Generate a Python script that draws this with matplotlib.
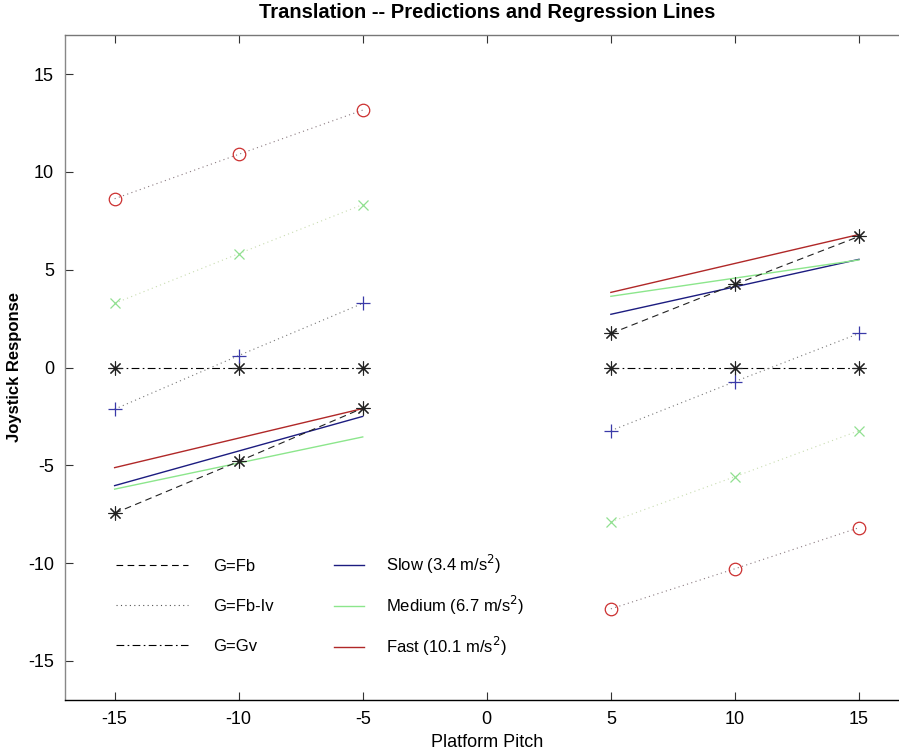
import matplotlib
matplotlib.use("Agg")
import matplotlib.pyplot as plt
from matplotlib.lines import Line2D

plt.rcParams['font.family'] = ['Liberation Sans', 'DejaVu Sans']

# ---- data ----
x_left = [-15, -10, -5]
x_right = [5, 10, 15]
x_reg_left = [-15, -5]
x_reg_right = [5, 15]

# predictions G=Fb (black asterisks, dashed)
fb_left = [-7.45, -4.8, -2.08]
fb_right = [1.74, 4.25, 6.7]
# predictions G=Gv (black asterisks, dash-dot)
gv_left = [0, 0, 0]
gv_right = [0, 0, 0]
# predictions G=Fb-Iv (dotted) for each speed
fbiv_slow_left = [-2.13, 0.61, 3.28]
fbiv_slow_right = [-3.23, -0.72, 1.74]
fbiv_med_left = [3.28, 5.82, 8.33]
fbiv_med_right = [-7.89, -5.58, -3.23]
fbiv_fast_left = [8.63, 10.9, 13.16]
fbiv_fast_right = [-12.34, -10.29, -8.19]

# regression lines
reg_slow_left = [-6.04, -2.5]
reg_slow_right = [2.72, 5.53]
reg_med_left = [-6.22, -3.55]
reg_med_right = [3.64, 5.5]
reg_fast_left = [-5.12, -2.1]
reg_fast_right = [3.84, 6.8]

xticks = [-15, -10, -5, 0, 5, 10, 15]
yticks = [-15, -10, -5, 0, 5, 10, 15]

c_slow = '#1c1c80'
c_med = '#8ce68c'
c_fast = '#b02828'
c_plus = '#3a3aa8'
c_circ = '#cc3030'
c_cross = '#90e090'

fig = plt.figure(figsize=(8.99, 7.49), dpi=100)
ax = fig.add_axes([65/899, 1-700/749, 843.6/899, 665/749])

lw = 0.8
ast = (8, 2, 0)

# regression lines
for xs, ys, c in [(x_reg_left, reg_slow_left, c_slow), (x_reg_right, reg_slow_right, c_slow),
                  (x_reg_left, reg_med_left, c_med), (x_reg_right, reg_med_right, c_med),
                  (x_reg_left, reg_fast_left, c_fast), (x_reg_right, reg_fast_right, c_fast)]:
    ax.plot(xs, ys, color=c, lw=1.0, zorder=2)

# G=Fb
for xs, ys in ((x_left, fb_left), (x_right, fb_right)):
    ax.plot(xs, ys, color='#222222', ls=(0, (6, 4)), lw=lw, zorder=3)
    ax.plot(xs, ys, ls='none', marker=ast, ms=10, mec='#222222', mew=0.8, zorder=4)

# G=Gv
for xs, ys in ((x_left, gv_left), (x_right, gv_right)):
    ax.plot(xs, ys, color='black', ls=(0, (7, 3, 1.5, 3)), lw=lw, zorder=3)
    ax.plot(xs, ys, ls='none', marker=ast, ms=10, mec='#222222', mew=0.8, zorder=4)

# G=Fb-Iv
for xs, ys, lc, m, mc, ms in [
        (x_left, fbiv_slow_left, '#777777', '+', c_plus, 10),
        (x_right, fbiv_slow_right, '#777777', '+', c_plus, 10),
        (x_left, fbiv_med_left, '#c8dcb0', 'x', c_cross, 7),
        (x_right, fbiv_med_right, '#c8dcb0', 'x', c_cross, 7),
        (x_left, fbiv_fast_left, '#8a7a80', 'o', c_circ, 9),
        (x_right, fbiv_fast_right, '#8a7a80', 'o', c_circ, 9)]:
    ax.plot(xs, ys, color=lc, ls=(0, (1, 3)), lw=lw, zorder=3)
    ax.plot(xs, ys, ls='none', marker=m, ms=ms, mfc='none', mec=mc, mew=0.9, zorder=4)

ax.set_xlim(-17, 17)
ax.set_ylim(-17, 17)
ax.set_xticks(xticks)
ax.set_yticks(yticks)
ax.set_xticklabels([str(v) for v in xticks], fontsize=13)
ax.set_yticklabels([str(v) for v in yticks], fontsize=13)
ax.tick_params(direction='in', top=True, right=True, length=6, width=0.8, colors='#333333',
               labelcolor='black', pad=8)
for s in ax.spines.values():
    s.set_linewidth(1.0)
ax.spines['left'].set_color('#888888')
ax.spines['top'].set_color('#777777')
ax.spines['bottom'].set_color('black')

ax.set_title('Translation -- Predictions and Regression Lines', fontsize=14.5, fontweight='bold', pad=12)
ax.set_xlabel('Platform Pitch', fontsize=13, labelpad=4)
ax.set_ylabel('Joystick Response', fontsize=12, fontweight='bold', labelpad=4)

# legends
h1 = [Line2D([], [], color='black', ls=(0, (6, 4)), lw=lw),
      Line2D([], [], color='#555555', ls=(0, (1, 3)), lw=lw),
      Line2D([], [], color='black', ls=(0, (7, 3, 1.5, 3)), lw=lw)]
leg1 = ax.legend(h1, ['G=Fb', 'G=Fb-Iv', 'G=Gv'], loc='upper left', frameon=False,
                 bbox_to_anchor=(116/899, 1-559/749), bbox_transform=fig.transFigure,
                 fontsize=12, handlelength=4.3, handletextpad=1.5, labelspacing=1.5,
                 borderpad=0, borderaxespad=0)
ax.add_artist(leg1)
h2 = [Line2D([], [], color=c_slow, lw=1.0),
      Line2D([], [], color=c_med, lw=1.0),
      Line2D([], [], color=c_fast, lw=1.0)]
ax.legend(h2, ['Slow (3.4 m/s$^2$)', 'Medium (6.7 m/s$^2$)', 'Fast (10.1 m/s$^2$)'],
          loc='upper left', frameon=False,
          bbox_to_anchor=(334/899, 1-553/749), bbox_transform=fig.transFigure,
          fontsize=12, handlelength=1.8, handletextpad=1.3, labelspacing=1.08,
          borderpad=0, borderaxespad=0)

fig.savefig('out.png', dpi=100)
